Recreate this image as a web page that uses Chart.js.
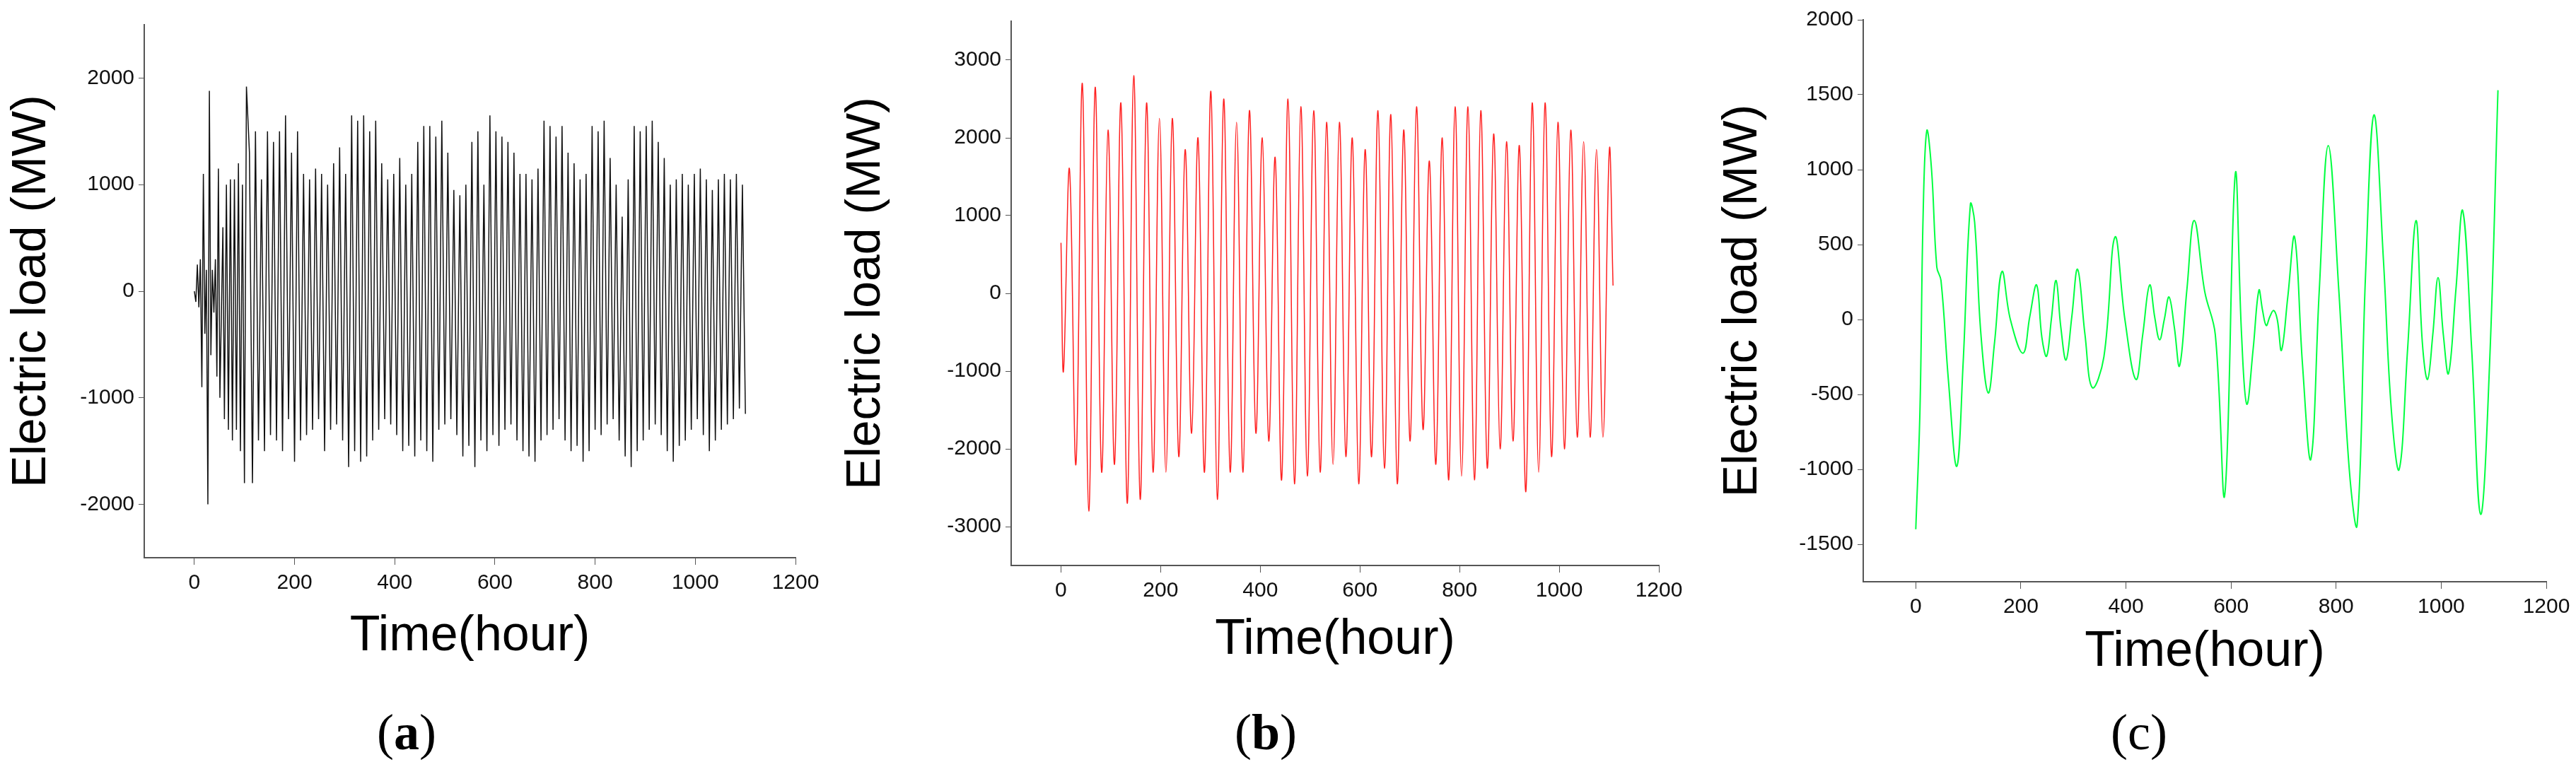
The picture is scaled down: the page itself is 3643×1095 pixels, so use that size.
<!DOCTYPE html>
<html><head><meta charset="utf-8">
<script src="https://cdn.jsdelivr.net/npm/chart.js@4"></script>
<style>
body{margin:0;background:#fff;width:3643px;height:1095px;position:relative;overflow:hidden}
.p{position:absolute}
.lab{position:absolute;font-family:"Liberation Serif",serif;font-size:72px;top:1000px;transform:translateX(-50%);line-height:1}
</style></head><body>
<div class="p" style="left:0;top:0;width:1180px;height:1000px"><canvas id="ca"></canvas></div>
<div class="p" style="left:1180px;top:0;width:1230px;height:1000px"><canvas id="cb"></canvas></div>
<div class="p" style="left:2420px;top:0;width:1223px;height:1095px"><canvas id="cc"></canvas></div>
<div class="lab" style="left:575px">(<b>a</b>)</div>
<div class="lab" style="left:1790px">(<b>b</b>)</div>
<div class="lab" style="left:3025px">(c)</div>
<script>
// x tick labels
const xTicks=[0,200,400,600,800,1000,1200];
const aYTicks=[-2000,-1000,0,1000,2000];
const bYTicks=[-3000,-2000,-1000,0,1000,2000,3000];
const cYTicks=[-1500,-1000,-500,0,500,1000,1500,2000];
// panel a: early hours (irregular start)
const aEarlyHours=[0,3,6,9,12,15,18,21,24,27,30,33,36,39,42,45,48,51,54,57,60,64,68,72,76,80,84,88,92,96,100,104];
const aEarlyLoad=[0,-100,250,-150,300,-900,1100,-400,200,-2000,1880,-600,200,-200,300,-800,1150,-1000,-200,600,-1200,1000,-1300,1050,-1400,1050,-1300,1200,-1500,1000,-1800,1920];
// panel a: 12-hourly peaks and troughs from hour 110
const aPeaks=[1300,1500,1050,1500,1400,1500,1650,1300,1500,1100,1050,1150,1100,1000,1200,1350,1100,1650,1600,1650,1500,1600,1200,1050,1100,1250,1000,1100,1400,1550,1550,1450,1600,1300,950,900,1000,1400,1500,1000,1650,1500,1450,1400,1300,1100,1100,1050,1150,1600,1550,1450,1550,1300,1200,1050,1100,1550,1500,1600,1250,1000,700,1050,1550,1500,1550,1600,1400,1250,1000,1050,1100,1000,1100,1150,1050,950,1050,1100,1050,1100,1000];
const aTroughs=[-1800,-1400,-1500,-1350,-1400,-1500,-1200,-1600,-1400,-1350,-1300,-1200,-1500,-1300,-1250,-1400,-1650,-1500,-1600,-1550,-1400,-1300,-1200,-1250,-1350,-1500,-1450,-1550,-1400,-1500,-1600,-1300,-1250,-1200,-1350,-1550,-1450,-1650,-1400,-1500,-1350,-1450,-1300,-1250,-1400,-1500,-1550,-1600,-1400,-1350,-1300,-1200,-1400,-1500,-1450,-1600,-1500,-1300,-1350,-1250,-1200,-1400,-1550,-1650,-1500,-1400,-1300,-1250,-1350,-1500,-1600,-1450,-1400,-1300,-1200,-1350,-1500,-1400,-1300,-1250,-1200,-1100,-1150];
// panel b: daily peaks/troughs
const bStart=[[0,650],[5,-1000]];
const bPeaks=[1600,2700,2650,2100,2450,2800,2450,2250,2250,1850,2000,2600,2500,2200,2350,2000,1750,2500,2400,2350,2200,2200,2000,1850,2350,2300,2100,2400,1700,2000,2400,2400,2350,2050,1950,1900,2450,2450,2200,2100,1950,1850,1850];
const bTroughs=[-2200,-2800,-2300,-2200,-2700,-2650,-2300,-2300,-2100,-1800,-2300,-2650,-2300,-2300,-1800,-1900,-2400,-2450,-2350,-2300,-2200,-2100,-2450,-2100,-2250,-2450,-1900,-1750,-2200,-2400,-2350,-2400,-2250,-2000,-1900,-2550,-2300,-2100,-2000,-1850,-1850,-1850];
const bEnd=[[1108,100]];
// panel c
const cHours=[0,8,14,21,30,40,48,62,78,90,104,112,124,138,150,164,180,204,217,230,240,249,258,267,276,286,297,308,322,336,358,379,398,419,432,445,455,464,473,482,492,502,516,530,550,570,588,608,620,630,642,653,660,667,674,681,688,696,708,721,736,752,768,785,805,825,840,856,872,890,905,920,936,952,964,974,984,994,1004,1014,1028,1041,1058,1075,1092,1108];
const cLoad=[-1400,-600,700,1260,1000,350,260,-400,-980,-300,770,650,-100,-490,-150,320,0,-225,20,230,-120,-245,0,260,-50,-270,20,335,-100,-455,-250,550,0,-400,-100,230,10,-135,0,150,-50,-310,200,660,185,-100,-1170,970,-100,-565,-200,195,60,-40,20,60,0,-205,150,550,-300,-930,200,1160,200,-1000,-1370,300,1365,400,-600,-1000,-200,660,-150,-400,-100,280,-100,-360,200,725,-200,-1300,-300,1530];

function mk(arrX,arrY){return arrX.map((x,i)=>({x:x,y:arrY[i]}));}
const aData=mk(aEarlyHours,aEarlyLoad);
for(let i=0;i<aPeaks.length;i++){aData.push({x:110+12*i,y:aPeaks[i]});if(i<aTroughs.length)aData.push({x:116+12*i,y:aTroughs[i]});}
const bData=bStart.map(p=>({x:p[0],y:p[1]}));
for(let i=0;i<bPeaks.length;i++){bData.push({x:17+25.8*i,y:bPeaks[i]});if(i<bTroughs.length)bData.push({x:30+25.8*i,y:bTroughs[i]});}
bEnd.forEach(p=>bData.push({x:p[0],y:p[1]}));
const cData=mk(cHours,cLoad);

const tickFont={family:"'Liberation Sans',Arial,sans-serif",size:30};
const titleFont={family:"'Liberation Sans',Arial,sans-serif",size:68};
const xTitleFont={family:"'Liberation Sans',Arial,sans-serif",size:70};
function opts(ymin,ymax,yticks,yw,xh,pad){
  return {responsive:true,maintainAspectRatio:false,animation:false,
   layout:{padding:pad},
   plugins:{legend:{display:false},tooltip:{enabled:false}},
   elements:{point:{radius:0}},
   scales:{
    x:{type:'linear',min:-100,max:1200,afterBuildTicks:s=>{s.ticks=xTicks.map(v=>({value:v}));},
      afterFit:s=>{s.height=xh;},
      border:{color:'#555',width:2},grid:{drawOnChartArea:false,tickLength:10,color:'#555'},
      ticks:{font:tickFont,color:'#111',maxRotation:0,padding:8,callback:v=>String(v)},
      title:{display:true,text:'Time(hour)',font:xTitleFont,color:'#000'}},
    y:{type:'linear',min:ymin,max:ymax,afterBuildTicks:s=>{s.ticks=yticks.map(v=>({value:v}));},
      afterFit:s=>{s.width=yw;},
      border:{color:'#555',width:2},grid:{drawOnChartArea:false,tickLength:8,color:'#555'},
      ticks:{font:tickFont,color:'#111',padding:6,callback:v=>String(v)},
      title:{display:true,text:'Electric load (MW)',font:titleFont,color:'#000',padding:{bottom:20}}}
   }};
}
new Chart(document.getElementById('ca'),{type:'line',data:{datasets:[{data:aData,borderColor:'#111',borderWidth:1.5,tension:0}]},
  options:opts(-2500,2500,aYTicks,204,158,{top:35,right:55,left:0,bottom:53})});
new Chart(document.getElementById('cb'),{type:'line',data:{datasets:[{data:bData,borderColor:'#ff2020',borderWidth:1.5,tension:0.4}]},
  options:opts(-3500,3500,bYTicks,250,152,{top:30,right:64,left:0,bottom:48})});
new Chart(document.getElementById('cc'),{type:'line',data:{datasets:[{data:cData,borderColor:'#00ff40',borderWidth:2,tension:0.4}]},
  options:opts(-1750,2000,cYTicks,215,146,{top:28,right:42,left:0,bottom:126})});
</script></body></html>
